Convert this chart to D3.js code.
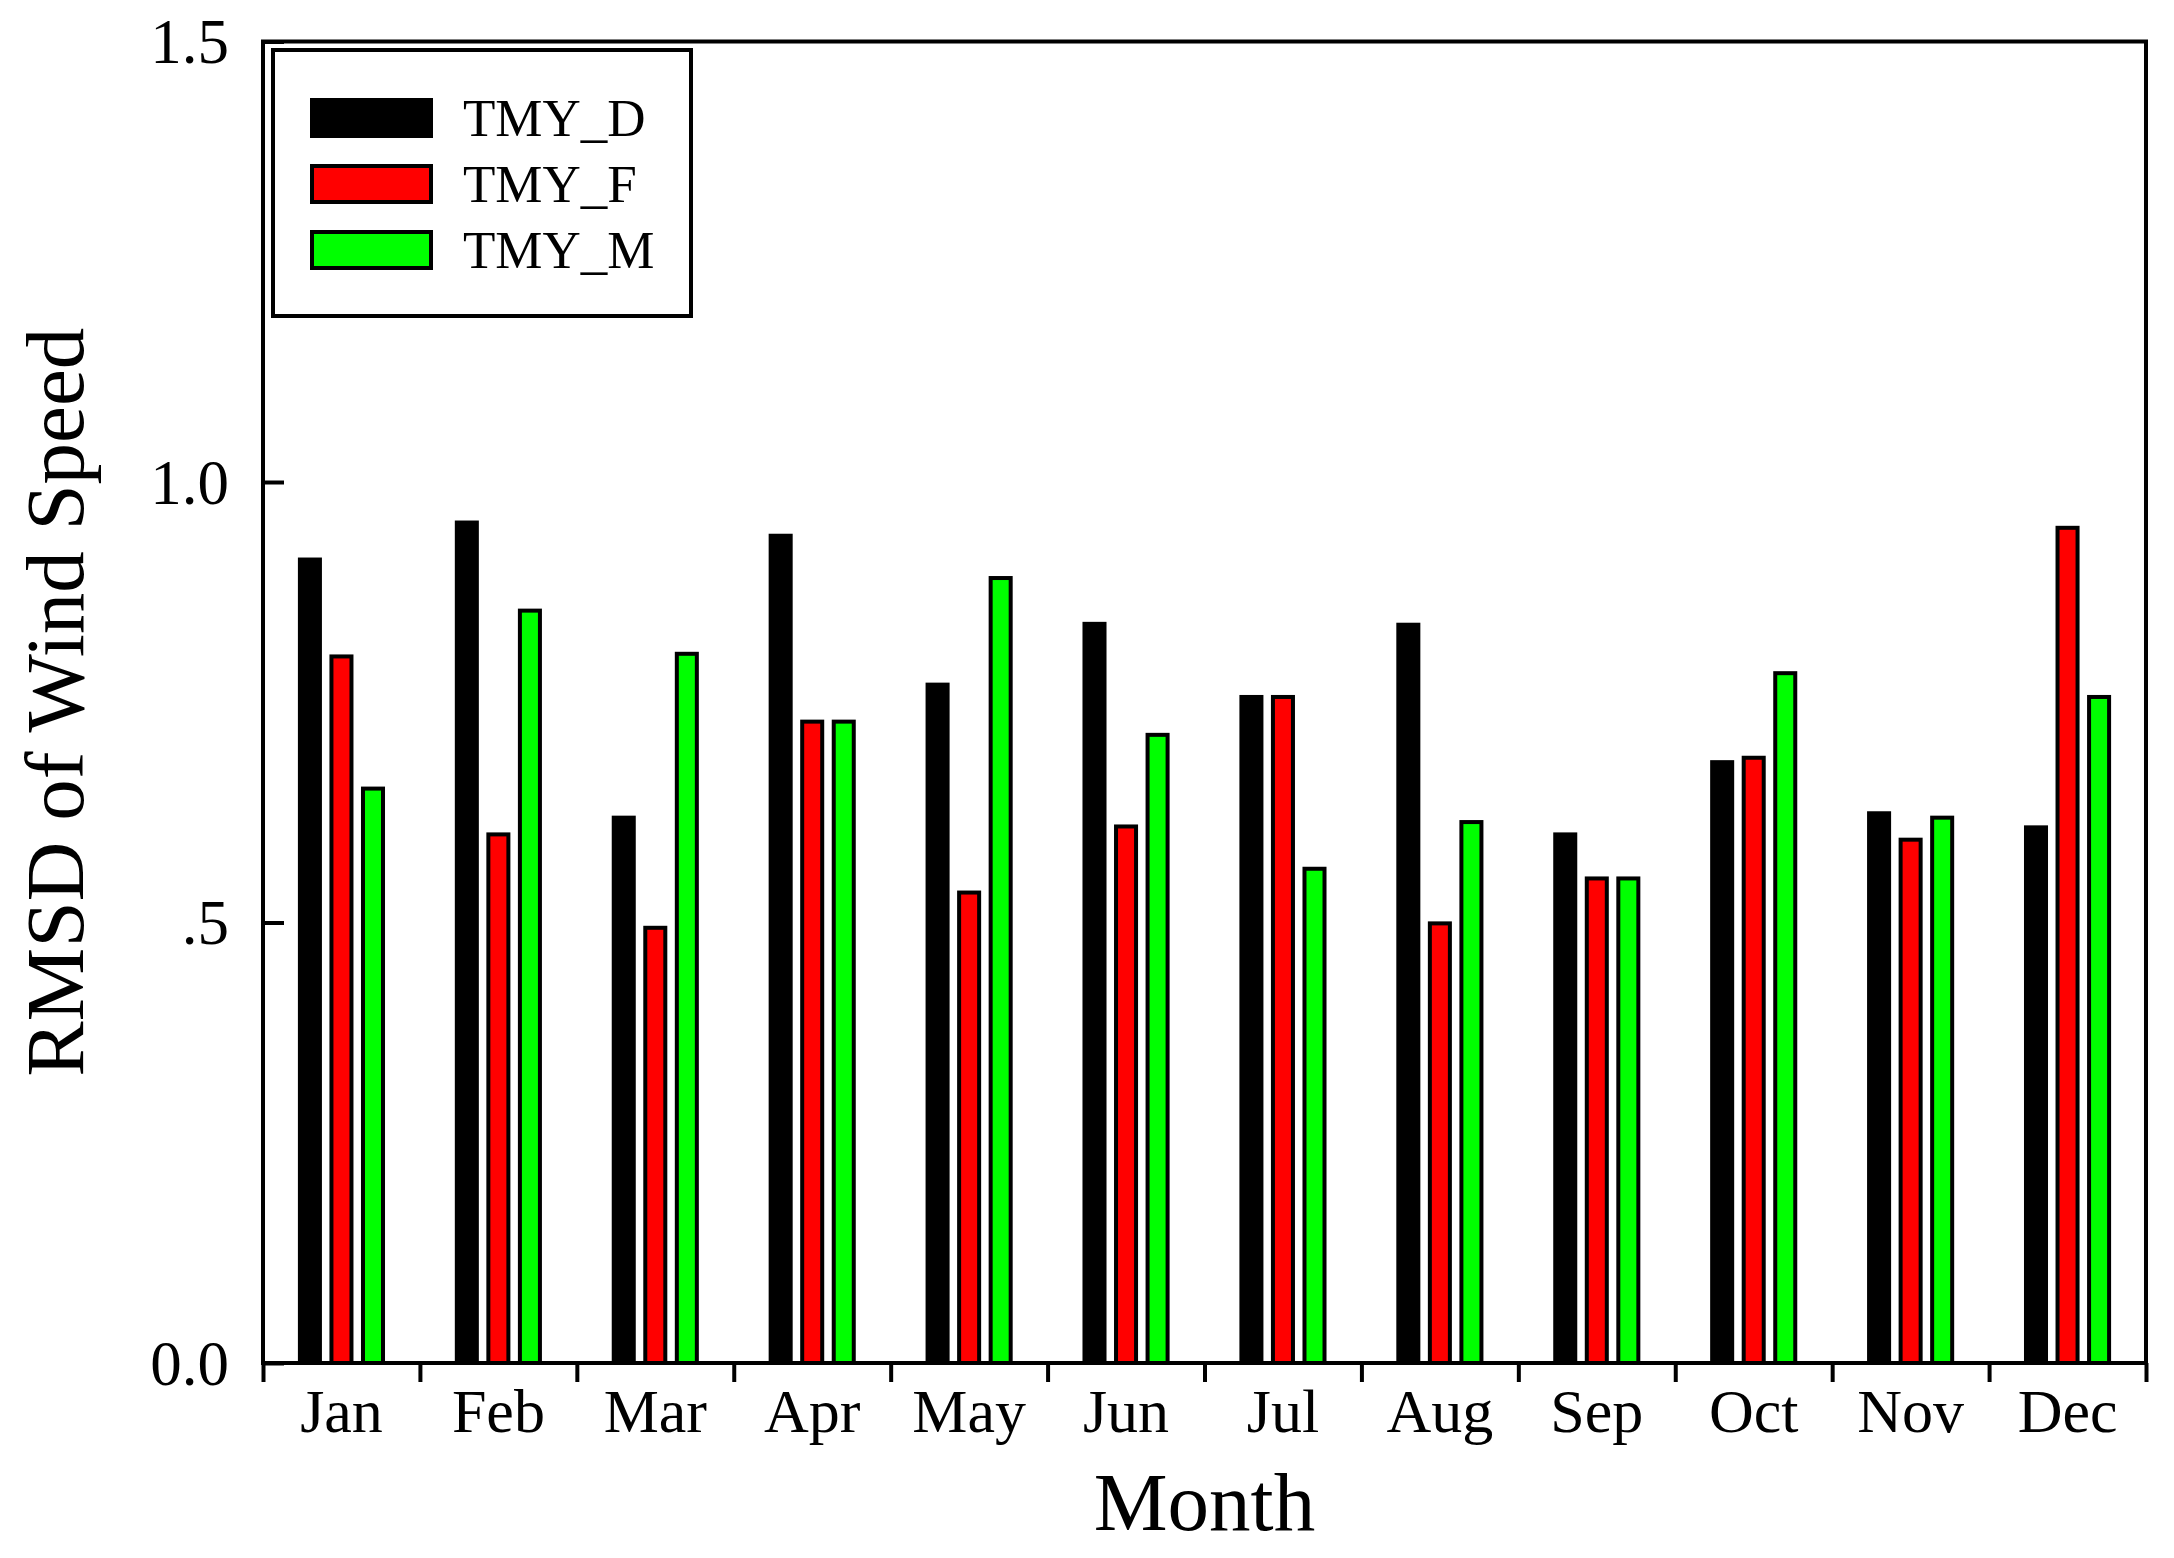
<!DOCTYPE html>
<html>
<head>
<meta charset="utf-8">
<script src="https://cdn.jsdelivr.net/npm/d3@7"></script>
<style>
  body { margin: 0; background: #fff; }
  text { font-family: "Liberation Serif", "Times New Roman", serif; fill: #000; }
</style>
</head>
<body>
<div id="grafico"></div>
<script>
// data
var meses = ["Jan", "Feb", "Mar", "Apr", "May", "Jun", "Jul", "Aug", "Sep", "Oct", "Nov", "Dec"];
var series = ["TMY_D", "TMY_F", "TMY_M"];
var colores = ["#000000", "#ff0000", "#00ff00"];
var tmyD = [0.912, 0.954, 0.619, 0.939, 0.770, 0.839, 0.756, 0.838, 0.600, 0.682, 0.624, 0.608];
var tmyF = [0.802, 0.600, 0.494, 0.728, 0.534, 0.609, 0.756, 0.499, 0.550, 0.687, 0.594, 0.948];
var tmyM = [0.652, 0.854, 0.805, 0.728, 0.891, 0.713, 0.561, 0.614, 0.550, 0.783, 0.619, 0.756];
var yTicks = [0, 0.5, 1.0, 1.5];
var yTickLabels = ["0.0", ".5", "1.0", "1.5"];

var valores = [tmyD, tmyF, tmyM];

var ancho = 2174;
var alto = 1558;
var margen = { superior: 41.5, derecho: 28, inferior: 195, izquierdo: 263 };
var w = ancho - margen.izquierdo - margen.derecho;
var h = alto - margen.superior - margen.inferior;

var svg = d3.select("#grafico")
    .append("svg")
    .attr("width", ancho)
    .attr("height", alto);

var g = svg.append("g")
    .attr("transform", "translate(" + margen.izquierdo + "," + margen.superior + ")");

var x0 = d3.scaleBand()
    .domain(meses)
    .range([0, w])
    .padding(0);

var x1 = d3.scaleBand()
    .domain(series)
    .range([0, x0.bandwidth()])
    .paddingInner(0.365)
    .paddingOuter(1.17);

var xBordes = d3.scaleLinear()
    .domain([0, meses.length])
    .range([0, w]);

var y = d3.scaleLinear()
    .domain([0, 1.5])
    .range([h, 0]);

// bars
var grupos = g.selectAll(".mes")
    .data(meses)
    .enter().append("g")
    .attr("class", "mes")
    .attr("transform", function (d) { return "translate(" + x0(d) + ",0)"; });

grupos.selectAll("rect")
    .data(function (d, i) {
        return series.map(function (s, k) { return { serie: s, k: k, v: valores[k][i] }; });
    })
    .enter().append("rect")
    .attr("x", function (d) { return x1(d.serie); })
    .attr("y", function (d) { return y(d.v); })
    .attr("width", x1.bandwidth())
    .attr("height", function (d) { return y(0) - y(d.v); })
    .style("fill", function (d) { return colores[d.k]; })
    .style("stroke", "#000")
    .style("stroke-width", 4);

// frame
g.append("rect")
    .attr("x", 0)
    .attr("y", 0)
    .attr("width", w)
    .attr("height", h)
    .style("fill", "none")
    .style("stroke", "#000")
    .style("stroke-width", 4);

// y axis, ticks pointing inward
var ejeY = g.append("g")
    .call(d3.axisLeft(y)
        .tickValues(yTicks)
        .tickSizeInner(-21)
        .tickSizeOuter(0)
        .tickPadding(34)
        .tickFormat(function (d, i) { return yTickLabels[i]; }));
ejeY.select(".domain").remove();
ejeY.selectAll("line").style("stroke", "#000").style("stroke-width", 4);
ejeY.selectAll("text")
    .attr("dy", "0.34em")
    .style("font-size", "63px")
    .style("font-family", "'Liberation Serif', serif");

// x axis: ticks on band borders
var ejeX = g.append("g")
    .attr("transform", "translate(0," + h + ")")
    .call(d3.axisBottom(xBordes)
        .tickValues(d3.range(meses.length + 1))
        .tickSizeInner(19)
        .tickSizeOuter(0)
        .tickFormat(""));
ejeX.select(".domain").remove();
ejeX.selectAll("line").style("stroke", "#000").style("stroke-width", 4);

// month labels at band centres
var etiquetasX = g.append("g")
    .attr("transform", "translate(0," + h + ")")
    .call(d3.axisBottom(x0).tickSize(0).tickPadding(0));
etiquetasX.select(".domain").remove();
etiquetasX.selectAll("text")
    .attr("y", 69)
    .attr("dy", 0)
    .style("font-size", "62px")
    .style("font-family", "'Liberation Serif', serif");

// axis titles
svg.append("text")
    .attr("x", margen.izquierdo + w / 2)
    .attr("y", 1530)
    .attr("text-anchor", "middle")
    .style("font-size", "83px")
    .text("Month");

svg.append("text")
    .attr("transform", "translate(83," + (margen.superior + h / 2) + ") rotate(-90)")
    .attr("text-anchor", "middle")
    .style("font-size", "83px")
    .text("RMSD of Wind Speed");

// legend
var leyenda = svg.append("g")
    .attr("transform", "translate(273,50)");

leyenda.append("rect")
    .attr("x", 0)
    .attr("y", 0)
    .attr("width", 418)
    .attr("height", 266)
    .style("fill", "#fff")
    .style("stroke", "#000")
    .style("stroke-width", 4);

var filas = leyenda.selectAll(".fila")
    .data(series)
    .enter().append("g")
    .attr("class", "fila")
    .attr("transform", function (d, i) { return "translate(0," + (48 + i * 66) + ")"; });

filas.append("rect")
    .attr("x", 39)
    .attr("y", 2)
    .attr("width", 119)
    .attr("height", 36)
    .style("fill", function (d, i) { return colores[i]; })
    .style("stroke", "#000")
    .style("stroke-width", 4);

filas.append("text")
    .attr("x", 190)
    .attr("y", 38)
    .style("font-size", "53px")
    .text(function (d) { return d; });
</script>
</body>
</html>
